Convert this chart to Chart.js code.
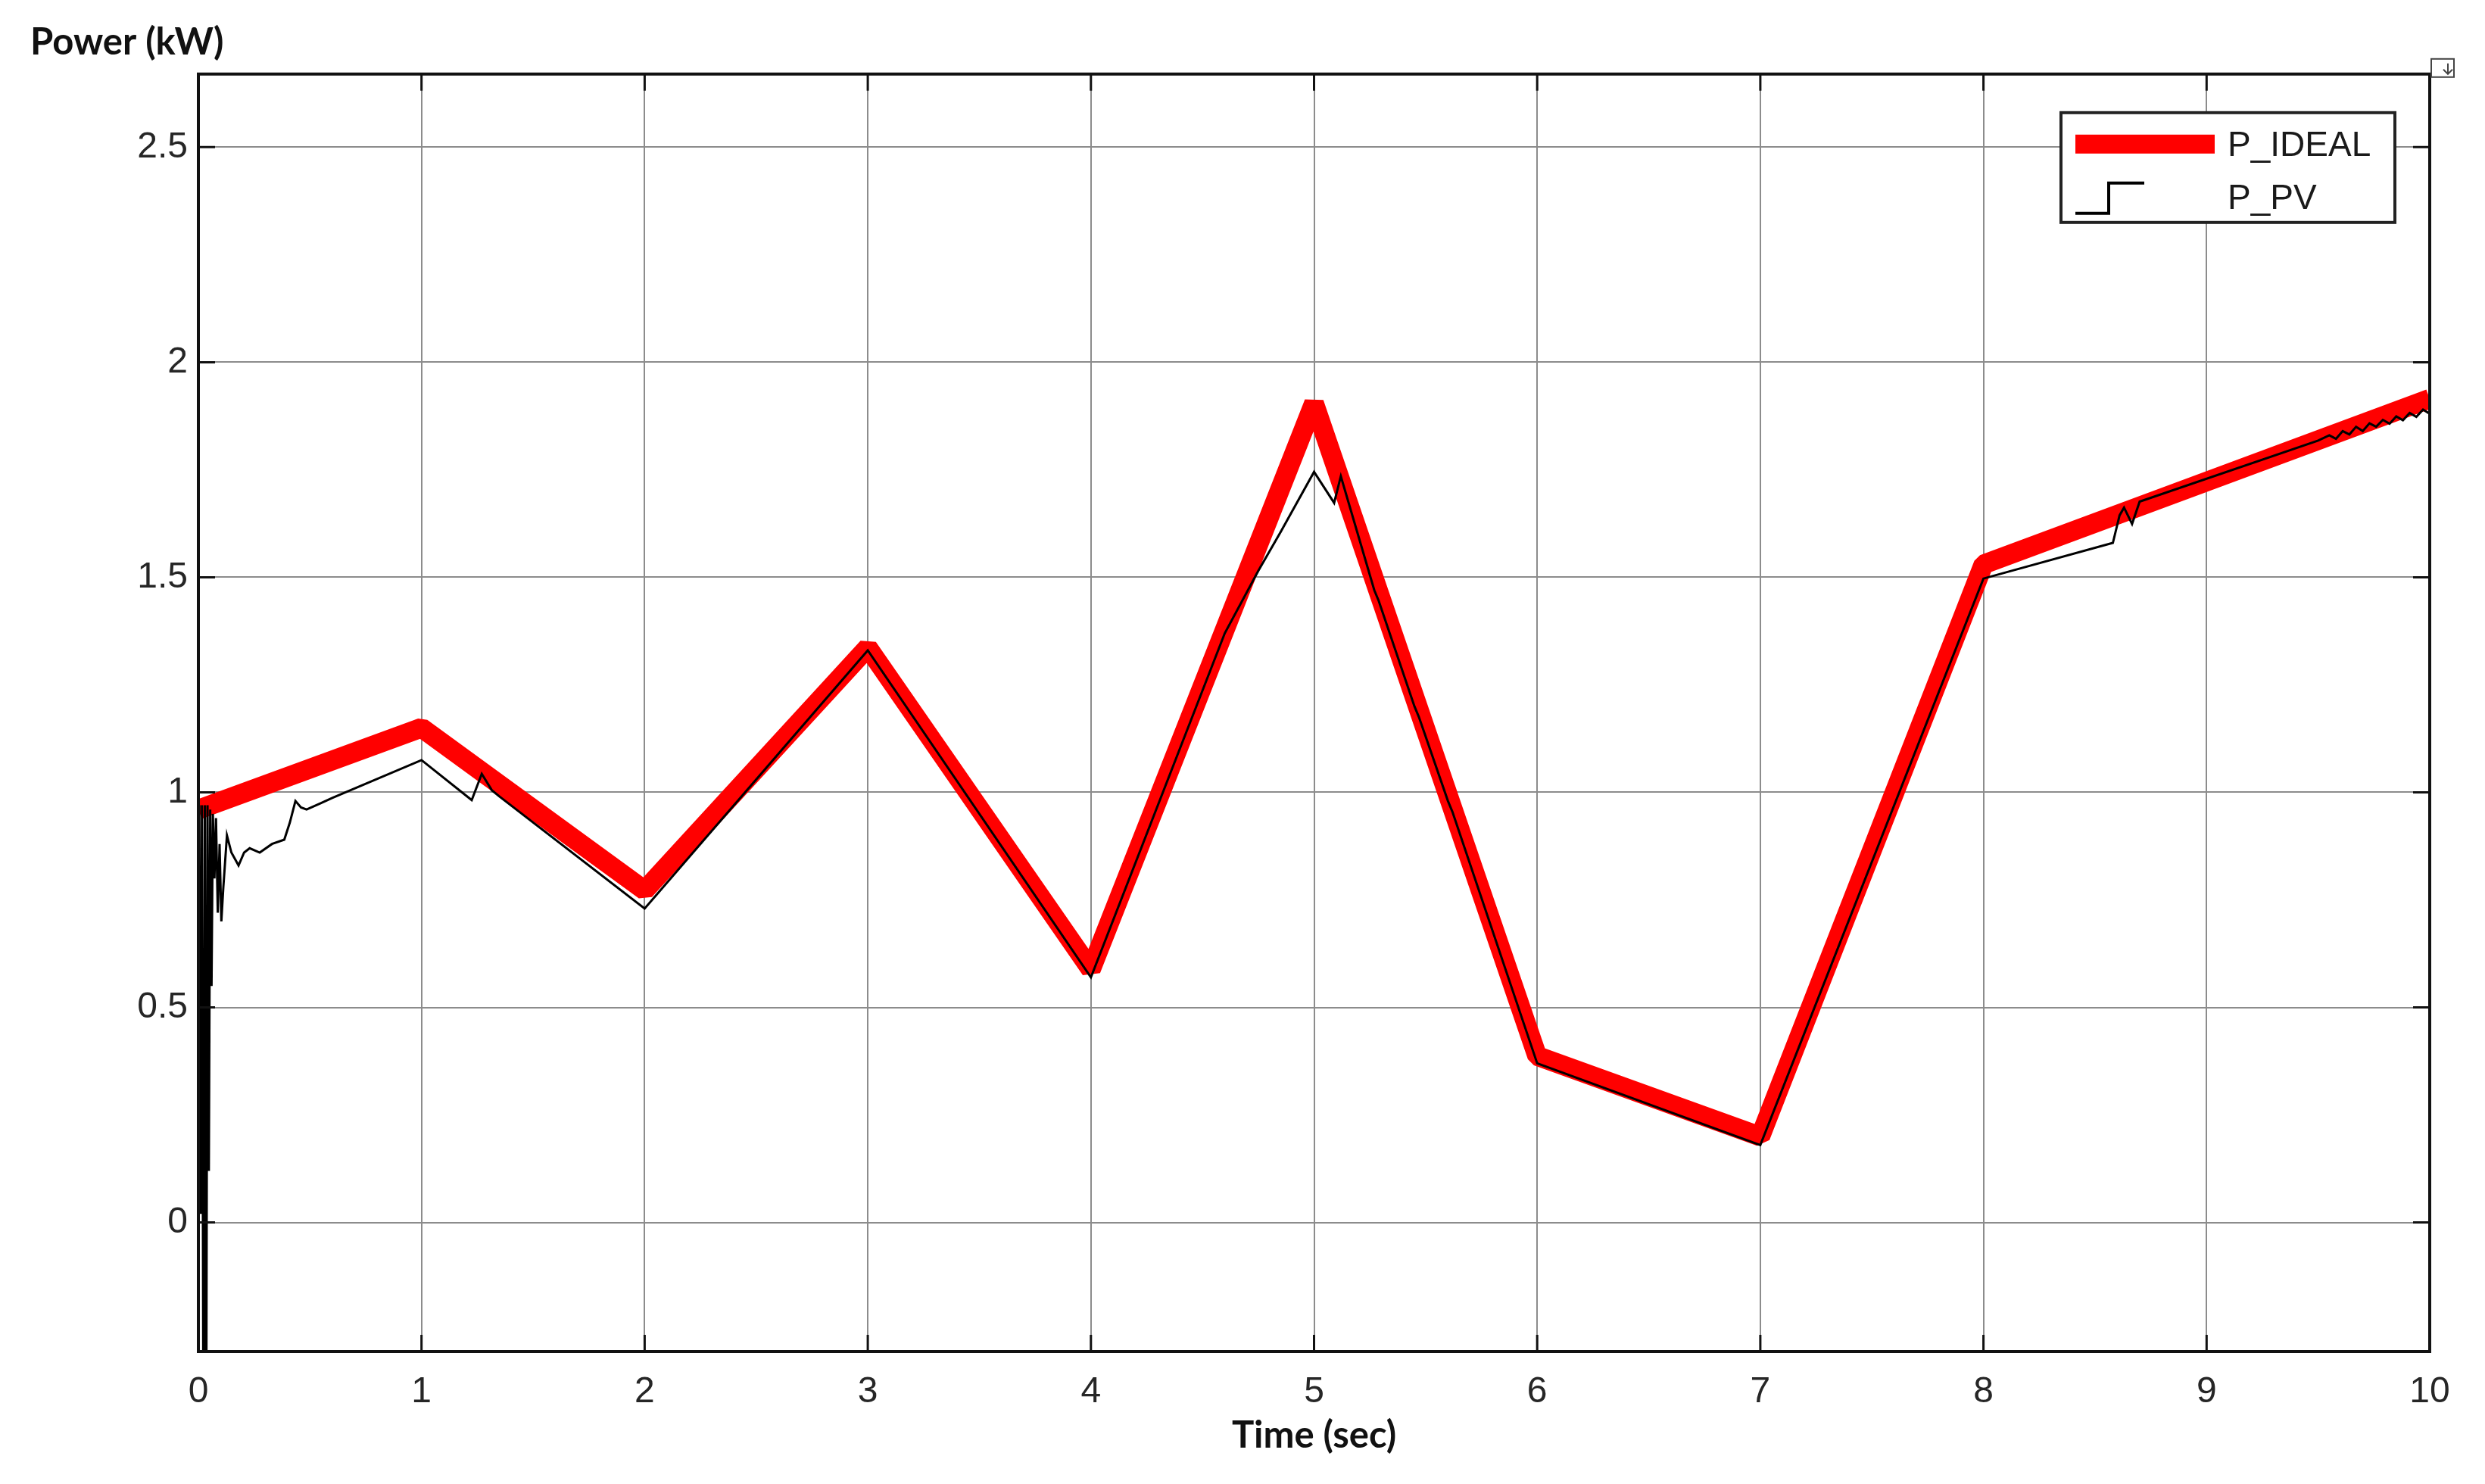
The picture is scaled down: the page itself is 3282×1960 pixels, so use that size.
<!DOCTYPE html>
<html>
<head>
<meta charset="utf-8">
<title>Power (kW)</title>
<script src="https://cdn.jsdelivr.net/npm/chart.js@4.4.1/dist/chart.umd.min.js"></script>
<style>
    html, body { margin: 0; padding: 0; background: #fff; }
    #wrap { position: relative; width: 3282px; height: 1960px; }
</style>
</head>
<body>
<div id="wrap"><canvas id="powerChart"></canvas></div>
<script>
'use strict';

// ideal power: straight segments between breakpoints
const idealTime = [0, 1, 2, 3, 4, 5, 6, 7, 8, 10];
const idealPower = [0.96, 1.15, 0.772, 1.337, 0.588, 1.905, 0.387, 0.2, 1.53, 1.915];

// measured PV power (start-up transient, then tracking)
const pvTime = [
    0, 0.004, 0.010, 0.016, 0.023, 0.029, 0.035, 0.041, 0.047, 0.053, 0.059, 0.065,
    0.072, 0.079, 0.087, 0.095, 0.103, 0.112, 0.128, 0.148, 0.180, 0.205, 0.230, 0.275,
    0.330, 0.385, 0.410, 0.435, 0.460, 0.485, 0.550, 0.600,
    1.000, 1.225, 1.270, 1.315, 1.350, 2.000, 3.000, 4.000, 4.600, 4.750, 4.850, 5.000,
    5.090, 5.120, 5.270, 5.290, 5.450, 5.470, 5.600, 5.620, 6.000, 7.000, 8.000,
    8.580, 8.610, 8.630, 8.666, 8.700, 9.500,
    9.550, 9.580, 9.610, 9.640, 9.670, 9.700, 9.730, 9.760, 9.790, 9.820, 9.850,
    9.880, 9.910, 9.940, 9.970, 10.000
];
const pvPower = [
    0.00, 0.97, 0.02, 0.97, -0.60, 0.97, -0.60, 0.97, 0.12, 0.96, 0.55, 0.95,
    0.80, 0.94, 0.72, 0.88, 0.70, 0.78, 0.90, 0.86, 0.83, 0.86, 0.87, 0.86,
    0.88, 0.89, 0.93, 0.98, 0.965, 0.96, 0.975, 0.987,
    1.075, 0.982, 1.043, 1.005, 0.99, 0.73, 1.33, 0.57, 1.37, 1.515, 1.605, 1.745,
    1.673, 1.735, 1.47, 1.445, 1.20, 1.175, 0.98, 0.955, 0.37, 0.18, 1.497,
    1.58, 1.644, 1.662, 1.624, 1.676, 1.818,
    1.83, 1.822, 1.84, 1.832, 1.85, 1.84, 1.858, 1.85, 1.866, 1.857, 1.874,
    1.865, 1.882, 1.873, 1.89, 1.88
];

const seriesLabels = ['P_IDEAL', 'P_PV'];
const xTicks = [0, 1, 2, 3, 4, 5, 6, 7, 8, 9, 10];
const yTicks = [0, 0.5, 1, 1.5, 2, 2.5];
const xLimits = [0, 10];
const yLimits = [-0.3, 2.67];

function toPoints(xs, ys) {
    return xs.map((x, i) => ({ x: x, y: ys[i] }));
}

const tickFont = { family: 'Liberation Sans', size: 48 };
const titleFont = { family: 'Lato', size: 49, weight: 'bold' };

// axes box, inward tick marks and the little dock icon
const scopeFrame = {
    id: 'scopeFrame',
    afterDatasetsDraw(chart) {
        const ctx = chart.ctx;
        const a = chart.chartArea;
        const xs = chart.scales.x;
        const ys = chart.scales.y;
        const len = 22;
        ctx.save();
        ctx.strokeStyle = '#111';
        ctx.lineWidth = 3;
        ctx.beginPath();
        yTicks.forEach((v) => {
            const py = ys.getPixelForValue(v);
            ctx.moveTo(a.left, py);
            ctx.lineTo(a.left + len, py);
            ctx.moveTo(a.right - len, py);
            ctx.lineTo(a.right, py);
        });
        xTicks.forEach((v) => {
            const px = xs.getPixelForValue(v);
            ctx.moveTo(px, a.bottom);
            ctx.lineTo(px, a.bottom - len);
            ctx.moveTo(px, a.top);
            ctx.lineTo(px, a.top + len);
        });
        ctx.stroke();
        ctx.lineWidth = 4;
        ctx.strokeRect(a.left, a.top, a.right - a.left, a.bottom - a.top);

        // dock icon in the corner
        ctx.lineWidth = 2;
        ctx.strokeStyle = '#444';
        ctx.fillStyle = '#fff';
        ctx.fillRect(a.right + 2, a.top - 20, 30, 24);
        ctx.strokeRect(a.right + 2, a.top - 20, 30, 24);
        ctx.beginPath();
        ctx.moveTo(a.right + 24, a.top - 14);
        ctx.lineTo(a.right + 24, a.top);
        ctx.moveTo(a.right + 18, a.top - 6);
        ctx.lineTo(a.right + 24, a.top);
        ctx.lineTo(a.right + 30, a.top - 6);
        ctx.stroke();
        ctx.restore();
    },
};

// legend box in the top-right corner, as the scope draws it
const scopeLegend = {
    id: 'scopeLegend',
    afterDraw(chart) {
        const ctx = chart.ctx;
        const a = chart.chartArea;
        const right = a.right - 46;
        const left = right - 441;
        const top = a.top + 51;
        const h = 145;
        ctx.save();
        ctx.fillStyle = '#fff';
        ctx.fillRect(left, top, right - left, h);
        ctx.strokeStyle = '#222';
        ctx.lineWidth = 4;
        ctx.strokeRect(left, top, right - left, h);
        ctx.font = '46px "Liberation Sans"';
        ctx.textBaseline = 'middle';
        ctx.textAlign = 'left';
        chart.data.datasets.forEach((ds, i) => {
            const cy = top + 42 + i * 70;
            if (i === 0) {
                ctx.fillStyle = ds.borderColor;
                ctx.fillRect(left + 19, cy - 13, 184, 25);
            } else {
                ctx.strokeStyle = ds.borderColor;
                ctx.lineWidth = 4;
                ctx.beginPath();
                ctx.moveTo(left + 19, cy + 21);
                ctx.lineTo(left + 63, cy + 21);
                ctx.lineTo(left + 63, cy - 19);
                ctx.lineTo(left + 110, cy - 19);
                ctx.stroke();
            }
            ctx.fillStyle = '#1a1a1a';
            ctx.fillText(ds.label, left + 220, cy + 3);
        });
        ctx.restore();
    },
};

var powerChart = new Chart(document.getElementById('powerChart'), {
    type: 'line',
    data: {
        datasets: [
            {
                label: seriesLabels[0],
                data: toPoints(idealTime, idealPower),
                borderColor: '#ff0000',
                borderWidth: 26,
                borderJoinStyle: 'bevel',
                pointRadius: 0,
                tension: 0,
                clip: 0,
                order: 1,
            },
            {
                label: seriesLabels[1],
                data: toPoints(pvTime, pvPower),
                borderColor: '#000000',
                borderWidth: 3,
                pointRadius: 0,
                tension: 0,
                clip: 0,
                order: 0,
            },
        ],
    },
    options: {
        responsive: true,
        maintainAspectRatio: false,
        devicePixelRatio: 1,
        animation: false,
        layout: {
            padding: { left: 40, top: 0, right: 73, bottom: 0 },
        },
        scales: {
            x: {
                type: 'linear',
                min: xLimits[0],
                max: xLimits[1],
                afterBuildTicks: (scale) => {
                    scale.ticks = xTicks.map((v) => ({ value: v }));
                },
                afterFit: (scale) => {
                    scale.height = 175;
                },
                grid: {
                    color: '#8c8c8c',
                    lineWidth: 2,
                    drawTicks: false,
                },
                border: { display: false },
                ticks: {
                    font: tickFont,
                    color: '#262626',
                    padding: 25,
                    maxRotation: 0,
                    autoSkip: false,
                    callback: (value) => String(value),
                },
                title: {
                    display: true,
                    text: 'Time (sec)',
                    font: titleFont,
                    color: '#111',
                    padding: { top: 0, bottom: 34 },
                },
            },
            y: {
                type: 'linear',
                min: yLimits[0],
                max: yLimits[1],
                afterBuildTicks: (scale) => {
                    scale.ticks = yTicks.map((v) => ({ value: v }));
                },
                afterFit: (scale) => {
                    scale.width = 222;
                },
                grid: {
                    color: '#8c8c8c',
                    lineWidth: 2,
                    drawTicks: false,
                },
                border: { display: false },
                ticks: {
                    font: tickFont,
                    color: '#262626',
                    padding: 14,
                    callback: (value) => String(value),
                },
            },
        },
        plugins: {
            legend: { display: false },
            tooltip: { enabled: false },
            title: {
                display: true,
                text: 'Power (kW)',
                align: 'start',
                font: titleFont,
                color: '#111',
                padding: { top: 27, bottom: 12 },
            },
        },
    },
    plugins: [scopeFrame, scopeLegend],
});
</script>
</body>
</html>
